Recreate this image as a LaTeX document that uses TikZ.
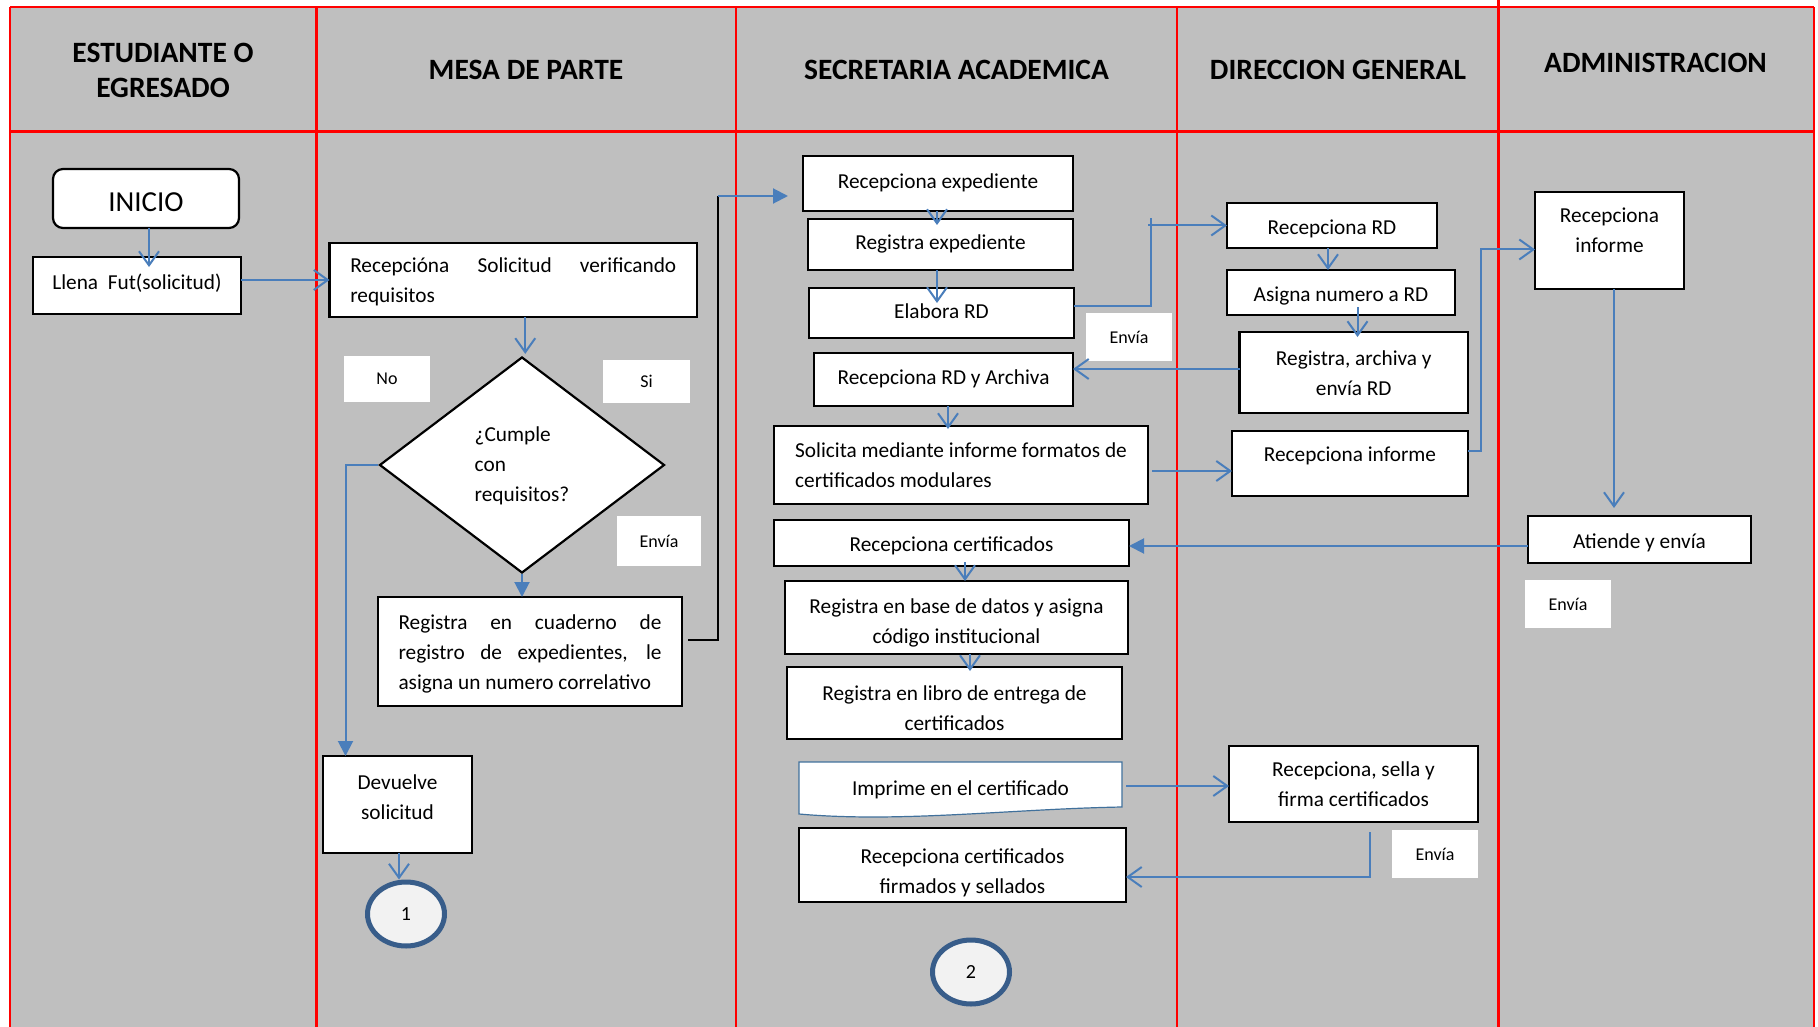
\documentclass[tikz,border=0pt]{standalone}
\usepackage{fontspec}
\setmainfont{Carlito}
\usetikzlibrary{arrows.meta,shapes.geometric,calc}
\definecolor{lanegray}{HTML}{BFBFBF}
\definecolor{lblue}{HTML}{4A7EBB}
\definecolor{cblue}{HTML}{385D8A}
\definecolor{cfill}{HTML}{F2F2F2}
\definecolor{docblue}{HTML}{41719C}
\newcommand\flowbx[7]{\node[box,#6,minimum width={(#4-#2)*1pt},minimum height={(#5-#3)*1pt}] (#1) at ({(#2+#4)/2},{(#3+#5)/2}) {#7};}
\newcommand\lblbx[6]{\node[lbl,minimum width={(#4-#2)*1pt},minimum height={(#5-#3)*1pt}] (#1) at ({(#2+#4)/2},{(#3+#5)/2}) {#6};}
\begin{document}
\begin{tikzpicture}[x=1pt,y=-1pt,
 box/.style={draw=black,line width=2.2pt,fill=white,inner sep=0pt,outer sep=0pt,align=center,font=\fontsize{21.3}{30}\selectfont,text height=15pt,text depth=5pt},
 mltwo/.style={text height=49pt,text depth=4pt},
 mlthree/.style={text height=79pt,text depth=4pt},
 lbl/.style={fill=white,inner sep=0pt,outer sep=0pt,font=\fontsize{18}{22}\selectfont},
 hdr/.style={font=\fontsize{29.5}{35}\selectfont\bfseries,align=center},
 conn/.style={draw=lblue,line width=2pt},
 oarrow/.style={conn,-{Straight Barb[length=14pt,width=20pt]}},
 farrow/.style={conn,-{Triangle[length=15pt,width=15pt]}},
 lane/.style={draw=red,line width=2.5pt},
 endc/.style={ellipse,draw=cblue,line width=5pt,fill=cfill,minimum width=77pt,minimum height=64pt,inner sep=0pt,font=\fontsize{20}{24}\selectfont}
]
\useasboundingbox (0,0) rectangle (1818,1027);
\fill[white] (0,0) rectangle (1818,1027);
\fill[lanegray] (10,7) rectangle (1814,1027);
% lane grid
\draw[lane] (10,7) -- (1814,7);
\draw[lane] (10,131.5) -- (1814,131.5);
\foreach \lx in {10,316.5,736,1177,1814} {\draw[lane] (\lx,7) -- (\lx,1027);}
\draw[lane] (1498.5,0) -- (1498.5,1027);
% headers
\node[hdr] (h1) at (163,70) {ESTUDIANTE O\\EGRESADO};
\node[hdr] (h2) at (526,70) {MESA DE PARTE};
\node[hdr] (h3) at (956.5,70) {SECRETARIA ACADEMICA};
\node[hdr] (h4) at (1338,70) {DIRECCION GENERAL};
\node[hdr] (h5) at (1655.5,63) {ADMINISTRACION};
% lane 1
\flowbx{inicio}{53}{169}{239}{228}{rounded corners=10pt,font=\fontsize{29}{34}\selectfont,text height=27pt,text depth=0pt}{INICIO}
\flowbx{llena}{33}{257}{241}{314}{text height=20pt,text depth=13pt}{Llena\ \ Fut(solicitud)}
% lane 2
\flowbx{recsol}{329.5}{243}{697}{317}{mltwo,align=left}{\makebox[326pt][s]{Recepcióna Solicitud verificando}\\requisitos}
\node[diamond,draw=black,line width=2.2pt,fill=white,minimum width=285pt,minimum height=216pt,inner sep=0pt,align=left,font=\fontsize{21.3}{30}\selectfont,text height=79pt,text depth=7pt] (dia) at (522,465) {¿Cumple\\con\\requisitos?};
\lblbx{lno}{344}{356}{430}{402}{No}
\lblbx{lsi}{603}{360}{690}{403}{Si}
\lblbx{lenv1}{617}{516}{701}{566}{Envía}
\flowbx{reg}{378}{597}{682}{706}{mlthree,align=left}{\makebox[263pt][s]{Registra en cuaderno de}\\\makebox[263pt][s]{registro de expedientes, le}\\asigna un numero correlativo}
\flowbx{dev}{323}{756}{472}{853}{text height=49pt,text depth=20pt}{Devuelve\\solicitud}
\node[endc] (c1) at (406,914) {1};
% lane 3
\flowbx{recexp}{803}{156}{1073}{211}{}{Recepciona expediente}
\flowbx{regexp}{808}{219}{1073}{270}{}{Registra expediente}
\flowbx{elab}{809}{288}{1074}{338}{}{Elabora RD}
\flowbx{recrdarch}{814}{353}{1073}{406}{}{Recepciona RD y Archiva}
\flowbx{solic}{774}{426}{1148}{504}{mltwo,align=left}{Solicita mediante informe formatos de\\certificados modulares}
\lblbx{lenv2}{1086}{313}{1172}{361}{Envía}
\flowbx{reccert}{774}{520}{1129}{566}{text height=21pt}{Recepciona certificados}
\flowbx{regbase}{785}{581}{1128}{654}{text height=56pt,text depth=4pt}{Registra en base de datos y asigna\\código institucional}
\flowbx{reglib}{787}{667}{1122}{739}{text height=58pt,text depth=4pt}{Registra en libro de entrega de\\certificados}
\filldraw[fill=white,draw=docblue,line width=1.2pt] (799,762) -- (1122,762) -- (1122,807) .. controls (1010,809) and (900,823) .. (799,814) -- cycle;
\node[inner sep=0pt,minimum width=323pt,minimum height=45pt,font=\fontsize{21.3}{30}\selectfont,text height=15pt,text depth=5pt] (imp) at (960.5,790) {Imprime en el certificado};
\flowbx{recfirm}{799}{828}{1126}{902}{text height=61pt,text depth=4pt}{Recepciona certificados\\firmados y sellados}
\node[endc] (c2) at (971,972) {2};
% lane 4
\flowbx{recrd}{1227}{203}{1437}{248}{text height=24pt}{Recepciona RD}
\flowbx{asig}{1227}{270}{1455}{315}{text height=22pt}{Asigna numero a RD}
\flowbx{regarch}{1239.5}{332}{1468}{413}{mltwo}{Registra, archiva y\\envía RD}
\flowbx{recinf4}{1232}{431}{1468}{496}{text depth=20pt}{Recepciona informe}
\flowbx{sella}{1229}{746}{1478}{822}{mltwo}{Recepciona, sella y\\firma certificados}
\lblbx{lenv3}{1392}{830}{1478}{878}{Envía}
% lane 5
\flowbx{recinf5}{1535}{192}{1684}{289}{text height=49pt,text depth=26pt}{Recepciona\\informe}
\flowbx{atiende}{1528}{516}{1751}{563}{text height=22pt}{Atiende y envía}
\lblbx{lenv4}{1525}{580}{1611}{628}{Envía}
% connectors
\draw[oarrow] ($(inicio.south)+(3,0)$) -- ($(inicio.south |- llena.north)+(3,10)$);
\draw[oarrow] (llena.east |- recsol.west) -- (recsol.west);
\draw[oarrow] ($(recsol.south)+(12,0)$) -- ($(recsol.south |- dia.north)+(12,-2)$);
\draw[farrow] (dia.south) -- (dia.south |- reg.north);
\draw[farrow] (dia.west) -| ($(dev.north)+(-52,0)$);
\coordinate (jr) at (718,196);
\draw[line width=2pt,black] ($(reg.east)+(6,-11.5)$) -| (jr);
\draw[farrow] (jr) -- ($(jr -| recexp.west)+(-15,0)$);
\draw[oarrow] ($(recexp.south)+(-1,0)$) -- ($(recexp.south |- regexp.north)+(-1,6)$);
\draw[oarrow] ($(regexp.south)+(-3.5,0)$) -- ($(regexp.south |- elab.north)+(-3.5,15)$);
\coordinate (ej) at (1151,0);
\draw[oarrow] ($(elab.east)+(0,-7)$) -| (ej |- recrd.west) -- (recrd.west);
\draw[conn] ($(ej |- recrd.west)+(-3,0)$) -- (ej |- recrd.west) -- ++(0,-7);
\draw[oarrow] ($(regarch.west)+(0,-3.5)$) -- ($(regarch.west -| recrdarch.east)+(0,-3.5)$);
\draw[oarrow] ($(recrdarch.south)+(4.5,0)$) -- ($(recrdarch.south |- solic.north)+(4.5,3)$);
\draw[oarrow] ($(solic.east)+(4,6)$) -- ($(solic.east -| recinf4.west)+(0,6)$);
\draw[oarrow] ($(recrd.south)+(-4,0)$) -- ($(recrd.south |- asig.north)+(-4,0)$);
\draw[oarrow] ($(asig.center)+(16.5,14.5)$) -- ($(asig.center |- regarch.north)+(16.5,5)$);
\coordinate (ij) at (1481,0);
\draw[oarrow] ($(recinf4.east)+(0,-12.5)$) -| ($(ij |- recinf5.west)+(0,9)$) -- ($(recinf5.west)+(0,9)$);
\draw[oarrow] ($(recinf5.south)+(4.5,0)$) -- ($(recinf5.south |- atiende.north)+(4.5,-8)$);
\draw[farrow] ($(atiende.west)+(0,6.5)$) -- ($(atiende.west -| reccert.east)+(0,6.5)$);
\draw[oarrow] ($(reccert.south)+(13.5,-4)$) -- ($(reccert.south |- regbase.north)+(13.5,0)$);
\draw[oarrow] ($(regbase.south)+(13.5,0)$) -- ($(regbase.south |- reglib.north)+(13.5,4)$);
\draw[oarrow] ($(imp.east)+(4,-4)$) -- ($(imp.east -| sella.west)+(0,-4)$);
\draw[oarrow] ($(sella.south)+(16.5,10)$) |- ($(recfirm.east)+(0,12)$);
\draw[oarrow] ($(dev.south)+(1.5,0)$) -- ($(dev.south |- c1.north)+(1.5,0)$);
\end{tikzpicture}
\end{document}
